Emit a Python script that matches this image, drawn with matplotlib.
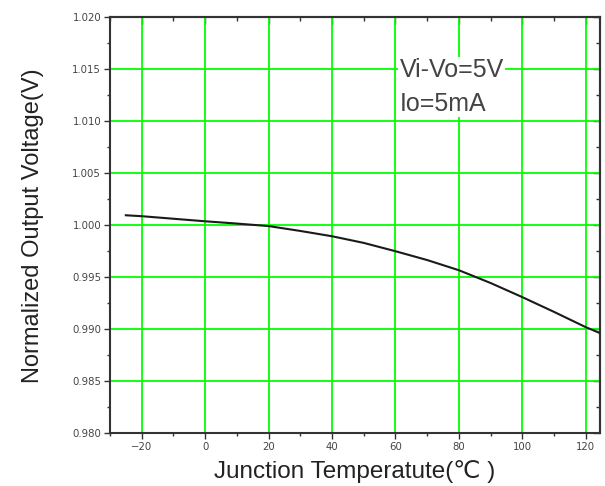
#!/usr/bin/env python
# -*- coding: utf-8 -*-

""" Normalized output voltage vs junction temperature """

import matplotlib
matplotlib.use("Agg")
import matplotlib.pyplot as plt
from matplotlib.ticker import MultipleLocator, FormatStrFormatter

# Data
TEMPS = [-25, -20, 0, 10, 20, 30, 40, 50, 60, 70, 80, 90, 100, 110, 120,
         124.5]
VOUT_NORM = [1.00096, 1.00087, 1.00038, 1.00016, 0.99992, 0.99945,
             0.99894, 0.99830, 0.99750, 0.99665, 0.99567, 0.99444,
             0.99308, 0.99166, 0.99019, 0.98962]
X_LIMITS = (-30, 124.5)
Y_LIMITS = (0.980, 1.020)
CONDITIONS = ["Vi-Vo=5V", "Io=5mA"]

FONT = ["Liberation Sans", "DejaVu Sans"]
GRID_COLOR = "#00ff00"
SPINE_COLOR = "#333333"


def main() -> None:
    """ Main function """
    plt.rcParams["font.family"] = FONT
    fig = plt.figure(figsize=(6.05, 4.86), dpi=100)
    ax = fig.add_axes([0.1818, 0.1091, 0.8099, 0.8549])

    ax.plot(TEMPS, VOUT_NORM, color="#1a1a1a", linewidth=1.5, zorder=3)

    ax.set_xlim(*X_LIMITS)
    ax.set_ylim(*Y_LIMITS)
    ax.xaxis.set_major_locator(MultipleLocator(20))
    ax.xaxis.set_minor_locator(MultipleLocator(10))
    ax.yaxis.set_major_locator(MultipleLocator(0.005))
    ax.yaxis.set_minor_locator(MultipleLocator(0.0025))
    ax.yaxis.set_major_formatter(FormatStrFormatter("%.3f"))
    ax.grid(True, which="major", color=GRID_COLOR, linewidth=1.3, zorder=1)
    ax.set_axisbelow(True)

    ax.tick_params(which="both", direction="out", color=SPINE_COLOR,
                   width=1.0, pad=2)
    ax.tick_params(which="major", length=4.3)
    ax.tick_params(which="minor", length=2.5)
    for lbl in ax.get_xticklabels() + ax.get_yticklabels():
        lbl.set_family("DejaVu Sans")
        lbl.set_fontsize(7.3)
        lbl.set_color("#444444")

    # inward ticks on top and right, no labels
    top = ax.secondary_xaxis("top")
    top.xaxis.set_major_locator(MultipleLocator(20))
    top.xaxis.set_minor_locator(MultipleLocator(10))
    top.tick_params(which="both", direction="in", labeltop=False,
                    color=SPINE_COLOR, width=1.0)
    top.tick_params(which="major", length=5)
    top.tick_params(which="minor", length=3)
    right = ax.secondary_yaxis("right")
    right.yaxis.set_major_locator(MultipleLocator(0.005))
    right.yaxis.set_minor_locator(MultipleLocator(0.0025))
    right.tick_params(which="both", direction="in", labelright=False,
                      color=SPINE_COLOR, width=1.0)
    right.tick_params(which="major", length=5)
    right.tick_params(which="minor", length=3)

    for axis in (ax, top, right):
        for spine in axis.spines.values():
            spine.set_color(SPINE_COLOR)
            spine.set_linewidth(1.5)

    ax.set_xlabel("Junction Temperatute(\u2103 )", fontsize=17.5,
                  color="#222222")
    ax.xaxis.set_label_coords(0.5, -0.066)
    ax.set_ylabel("Normalized Output Voltage(V)", fontsize=17,
                  color="#222222")
    ax.yaxis.set_label_coords(-0.135, 0.5)

    ax.text(61.3, 1.0133, "\n".join(CONDITIONS), fontsize=18,
            color="#444444", ha="left", va="center", linespacing=1.5,
            zorder=4,
            bbox=dict(facecolor="white", edgecolor="none", pad=1.0))

    fig.savefig("out.png", dpi=100)


if __name__ == "__main__":
    main()
